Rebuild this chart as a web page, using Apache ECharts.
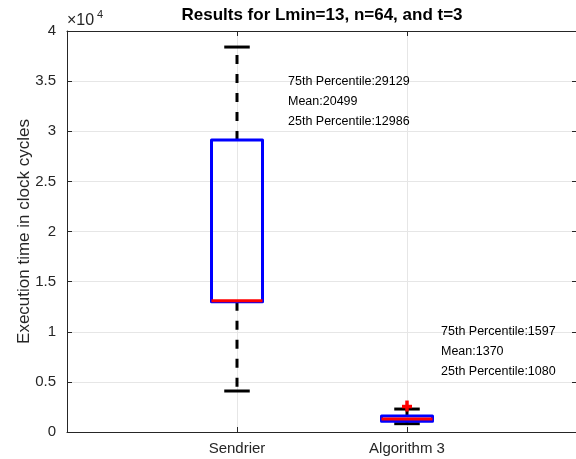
<!DOCTYPE html>
<html>
<head>
<meta charset="utf-8">
<script src="https://cdn.jsdelivr.net/npm/echarts@6/dist/echarts.min.js"></script>
<style>
  html, body { margin: 0; padding: 0; background: #fff; }
  #viz { width: 576px; height: 459px; }
</style>
</head>
<body>
<div id="viz"></div>
<script>
// box plot statistics
var categories = ['Sendrier', 'Algorithm 3'];
var lowerWhisker = [4090, 830];
var q1 = [12986, 1080];
var median = [13100, 1300];
var q3 = [29129, 1597];
var upperWhisker = [38400, 2290];
var means = [20499, 1370];
var outliers = [[2, 2540]];
var yTicks = [0, 5000, 10000, 15000, 20000, 25000, 30000, 35000, 40000];

function vizDraw() {
  var dom = document.getElementById('viz');
  var myChart = echarts.init(dom, null, { renderer: 'canvas' });
  var font = '"Liberation Sans", Arial, Helvetica, sans-serif';
  var ink = '#262626';

  // where the text notes sit (data coords), one per box
  var noteX = [1.3, 2.2];
  var noteY = [35000, 10000];

  var boxData = categories.map(function (c, i) {
    return [i + 1, lowerWhisker[i], q1[i], median[i], q3[i], upperWhisker[i], i];
  });

  function renderBox(params, api) {
    var x = api.value(0);
    var lo = api.value(1), b1 = api.value(2), md = api.value(3), b3 = api.value(4), hi = api.value(5);
    var i = api.value(6);
    var hw = 0.15, cw = 0.075;
    var pLo = api.coord([x, lo]), pB1 = api.coord([x, b1]), pB3 = api.coord([x, b3]), pHi = api.coord([x, hi]);
    var boxL = api.coord([x - hw, b3]), boxR = api.coord([x + hw, b1]);
    var capL = api.coord([x - cw, hi]), capR = api.coord([x + cw, hi]);
    var capL2 = api.coord([x - cw, lo]), capR2 = api.coord([x + cw, lo]);
    var mL = api.coord([x - hw, md]), mR = api.coord([x + hw, md]);
    var dash = { stroke: '#000', lineWidth: 3, lineDash: [9, 10] };
    var children = [
      { type: 'line', shape: { x1: pB3[0], y1: pB3[1], x2: pHi[0], y2: pHi[1] }, style: dash },
      { type: 'line', shape: { x1: pB1[0], y1: pB1[1], x2: pLo[0], y2: pLo[1] }, style: dash },
      { type: 'line', shape: { x1: capL[0], y1: capL[1], x2: capR[0], y2: capR[1] }, style: { stroke: '#000', lineWidth: 3 } },
      { type: 'line', shape: { x1: capL2[0], y1: capL2[1], x2: capR2[0], y2: capR2[1] }, style: { stroke: '#000', lineWidth: 3 } },
      { type: 'rect', shape: { x: boxL[0], y: boxL[1], width: boxR[0] - boxL[0], height: boxR[1] - boxL[1] },
        style: { fill: null, stroke: '#0000ff', lineWidth: 3, lineJoin: 'round' } },
      { type: 'line', shape: { x1: mL[0], y1: mL[1], x2: mR[0], y2: mR[1] }, style: { stroke: '#ff0000', lineWidth: 3 } }
    ];
    var notes = [
      '75th Percentile:' + q3[i],
      'Mean:' + means[i],
      '25th Percentile:' + q1[i]
    ];
    notes.forEach(function (t, k) {
      var p = api.coord([noteX[i], noteY[i] - k * 2000]);
      children.push({
        type: 'text', x: p[0], y: p[1],
        style: { text: t, font: '12.5px ' + font, fill: '#000', textAlign: 'left', textVerticalAlign: 'middle' }
      });
    });
    return { type: 'group', children: children };
  }

  function renderPlus(params, api) {
    var p = api.coord([api.value(0), api.value(1)]);
    var s = 5;
    return { type: 'group', children: [
      { type: 'line', shape: { x1: p[0] - s, y1: p[1], x2: p[0] + s, y2: p[1] }, style: { stroke: '#ff0000', lineWidth: 3.5 } },
      { type: 'line', shape: { x1: p[0], y1: p[1] - s - 1, x2: p[0], y2: p[1] + s }, style: { stroke: '#ff0000', lineWidth: 3.5 } }
    ] };
  }

  var axLine = { show: true, onZero: false, lineStyle: { color: ink, width: 1 } };
  var tick = { show: true, inside: true, length: 5, lineStyle: { color: ink } };
  var gridLine = { show: true, lineStyle: { color: '#e6e6e6', width: 1 } };

  var option = {
    animation: false,
    backgroundColor: '#fff',
    grid: { left: 67, width: 510, top: 31, height: 401, show: false, containLabel: false, outerBoundsMode: 'none' },
    xAxis: [{
      type: 'value', min: 0, max: 3, interval: 1, position: 'bottom',
      axisLine: axLine, axisTick: tick,
      axisLabel: {
        formatter: function (v) { return categories[v - 1] || ''; },
        fontFamily: font, fontSize: 15, color: ink, margin: 9
      },
      splitLine: gridLine
    }, {
      type: 'value', min: 0, max: 3, interval: 1, position: 'top',
      axisLine: axLine, axisTick: tick,
      axisLabel: { show: false },
      splitLine: { show: false }
    }],
    yAxis: [{
      type: 'value', min: yTicks[0], max: yTicks[yTicks.length - 1], interval: yTicks[1] - yTicks[0],
      position: 'left',
      name: 'Execution time in clock cycles', nameLocation: 'middle', nameGap: 34, nameMoveOverlap: false,
      nameTextStyle: { fontFamily: font, fontSize: 17, color: ink },
      axisLine: axLine, axisTick: tick,
      axisLabel: {
        formatter: function (v) { return String(v / 10000); },
        fontFamily: font, fontSize: 15, color: ink, margin: 11
      },
      splitLine: gridLine
    }, {
      type: 'value', min: yTicks[0], max: yTicks[yTicks.length - 1], interval: yTicks[1] - yTicks[0],
      position: 'right',
      axisLine: axLine, axisTick: tick,
      axisLabel: { show: false },
      splitLine: { show: false }
    }],
    graphic: [{
      type: 'text', x: 322, y: 15,
      style: { text: 'Results for Lmin=13, n=64, and t=3', font: 'bold 17px ' + font, fill: '#000',
        textAlign: 'center', textVerticalAlign: 'middle' }
    }, {
      type: 'text', x: 67, y: 21,
      style: { text: '\u00d710', font: '16px ' + font, fill: ink, textAlign: 'left', textVerticalAlign: 'middle' }
    }, {
      type: 'text', x: 97, y: 15,
      style: { text: '4', font: '11px ' + font, fill: ink, textAlign: 'left', textVerticalAlign: 'middle' }
    }],
    series: [{
      type: 'custom', name: 'box', renderItem: renderBox,
      xAxisIndex: 0, yAxisIndex: 0,
      encode: { x: 0, y: [1, 5] },
      data: boxData, z: 3
    }, {
      type: 'custom', name: 'outlier', renderItem: renderPlus,
      xAxisIndex: 0, yAxisIndex: 0,
      encode: { x: 0, y: 1 },
      data: outliers, z: 4
    }]
  };

  if (option && typeof option === 'object') {
    myChart.setOption(option, true);
  }
}

vizDraw();
</script>
</body>
</html>
